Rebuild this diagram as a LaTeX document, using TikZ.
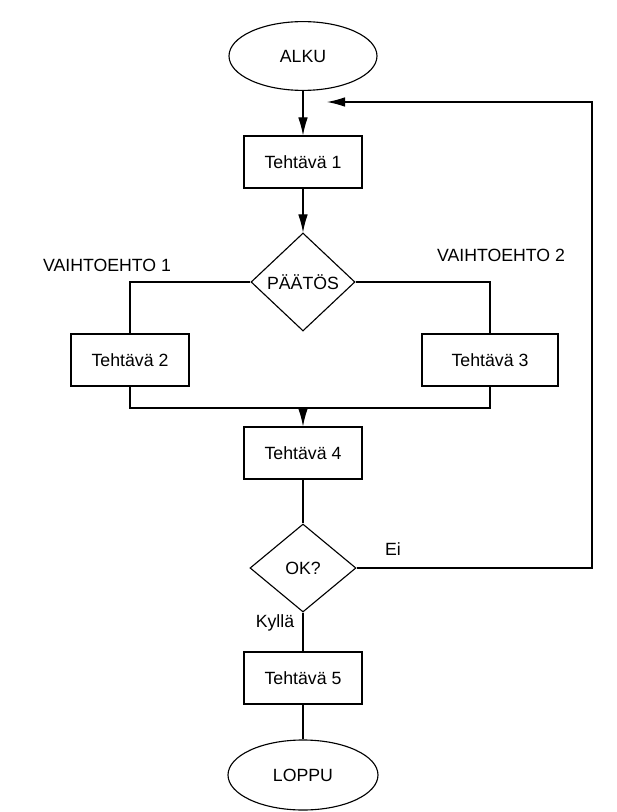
\documentclass[tikz,border=0pt]{standalone}
\usepackage{fontspec}
\setmainfont{Liberation Sans}
\usepackage{tikz}
\usetikzlibrary{positioning,shapes.geometric,arrows.meta}

\tikzset{
  alkuloppu/.style={ellipse,draw,minimum width=3.7cm,minimum height=1.72cm,inner sep=0pt},
  tehtava/.style={rectangle,draw,minimum width=2.95cm,minimum height=1.3cm},
  paatos/.style={diamond,draw,inner sep=0pt},
}

\begin{document}
\begin{tikzpicture}[>={Latex[length=4.5mm,width=2.4mm]},line width=0.8pt,
    font=\fontsize{12.6}{14}\selectfont]
  \useasboundingbox (-7.575,1.4) rectangle (7.825,-18.9);

  \node [alkuloppu] (alku) {ALKU};
  \node [tehtava] (t1) [below of = alku, node distance=2.65cm] {Tehtävä 1};
  \node [paatos, minimum width=2.6cm, minimum height=2.45cm] (paat) [below of = t1, node distance=3cm] {PÄÄTÖS};
  \node [tehtava] (t2) [below of = paat, node distance=1.95cm, xshift=-4.325cm] {Tehtävä 2};
  \node [tehtava, minimum width=3.4cm] (t3) [below of = paat, node distance=1.95cm, xshift=4.675cm] {Tehtävä 3};
  \node [tehtava] (t4) [below of = paat, node distance=4.275cm] {Tehtävä 4};
  \node [paatos, minimum width=2.65cm, minimum height=2.2cm] (ok) [below of = t4, node distance=2.875cm] {OK?};
  \node [tehtava] (t5) [below of = ok, node distance=2.75cm] {Tehtävä 5};
  \node [alkuloppu, minimum width=3.75cm, minimum height=1.75cm] (loppu) [below of = t5, node distance=2.425cm] {LOPPU};

  % labels
  \node (v1) at (-4.9,-5.225) {VAIHTOEHTO 1};
  \node (v2) at (4.95,-4.975) {VAIHTOEHTO 2};
  \node (ei) at (2.25,-12.325) {Ei};
  \node (kylla) at (-0.7,-14.175) {Kyllä};

  \coordinate (yhd) at (0,-8.8);
  \coordinate (kulma) at (7.225,-1.15);
  \coordinate (karki) at (0.6,-1.15);

  \draw [->] (alku) -- (t1);
  \draw [->] (t1) -- (paat);
  \draw (paat.west) -| (t2.north);
  \draw (paat.east) -| (t3.north);
  \draw (t2.south) |- (yhd) -| (t3.south);
  \draw [->] (yhd) -- (t4);
  \draw (t4) -- (ok);
  \draw (ok) -- (t5);
  \draw (t5) -- (loppu);
  \draw [->] (ok.east) -| (kulma) -- (karki);
\end{tikzpicture}
\end{document}
